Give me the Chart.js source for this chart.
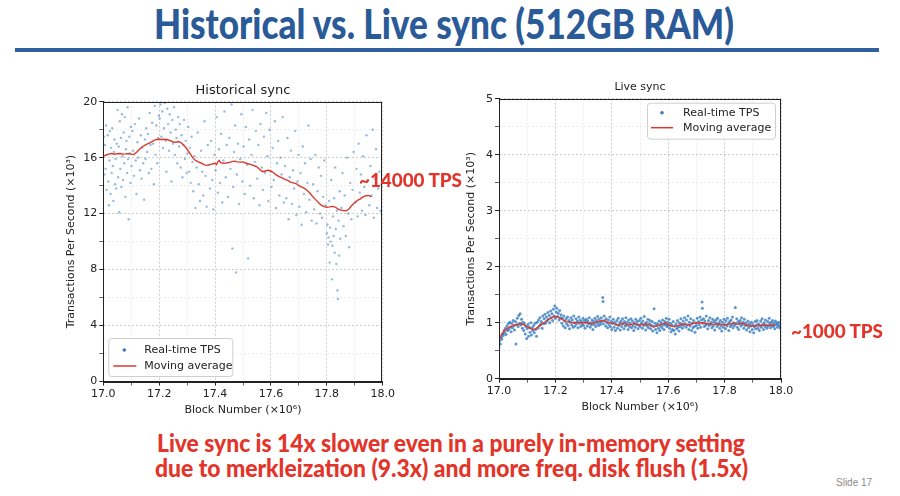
<!DOCTYPE html>
<html>
<head>
<meta charset="utf-8">
<script src="https://cdn.jsdelivr.net/npm/chart.js@4.4.1/dist/chart.umd.min.js"></script>
<style>
  html, body { margin: 0; padding: 0; background: #fff; }
  body { width: 900px; height: 496px; position: relative; overflow: hidden; }
  .txt { position: absolute; white-space: nowrap; line-height: 1; transform-origin: 0 0;
         font-family: Lato, "Open Sans", sans-serif; font-weight: 900; }
  #title { color: #2b5a98; font-size: 41px; left: 154px; top: 3px; }
  #rule { position: absolute; left: 15px; top: 48px; width: 864px; height: 4px; background: #2e5f9e; }
  .red { color: #e3342a; }
  #ann1 { font-size: 19px; left: 359px; top: 170px; }
  #ann2 { font-size: 19px; left: 791px; top: 321px; }
  #foot1 { font-size: 24px; left: 157px; top: 431px; }
  #foot2 { font-size: 24px; left: 155px; top: 456px; }
  #slide { font-family: "Liberation Sans", Arial, sans-serif; font-weight: normal; font-size: 10px; color: #8a8a8a; left: 836px; top: 478px; }
  canvas { position: absolute; }
  #histWrap { position: absolute; left: 40px; top: 72px; width: 360px; height: 350px; }
  #liveWrap { position: absolute; left: 440px; top: 68px; width: 360px; height: 352px; }
</style>
</head>
<body>
<div id="title" class="txt" data-w="580">Historical vs. Live sync (512GB RAM)</div>
<div id="rule"></div>
<div id="histWrap"><canvas id="histChart"></canvas></div>
<div id="liveWrap"><canvas id="liveChart"></canvas></div>
<div id="ann1" class="txt red" data-w="103">~14000 TPS</div>
<div id="ann2" class="txt red" data-w="92">~1000 TPS</div>
<div id="foot1" class="txt red" data-w="588">Live sync is 14x slower even in a purely in-memory setting</div>
<div id="foot2" class="txt red" data-w="593">due to merkleization (9.3x) and more freq. disk flush (1.5x)</div>
<div id="slide" class="txt">Slide 17</div>
<script>
// block number (x10^6), TPS (x10^3)
const histPoints = [
  [17.002,17.5],[17.004,14.8],[17.006,16.9],[17.008,15.2],[17.010,18.3],[17.012,13.7],[17.014,16.2],[17.016,17.6],
  [17.018,14.3],[17.020,12.6],[17.022,15.8],[17.024,17.9],[17.026,13.4],[17.028,16.7],[17.030,14.9],[17.032,18.1],
  [17.034,15.4],[17.036,12.9],[17.038,16.4],[17.040,17.3],[17.042,14.1],[17.044,15.9],[17.046,13.8],[17.048,17.0],
  [17.051,19.4],[17.053,14.6],[17.055,16.8],[17.057,12.1],[17.059,18.6],[17.061,15.2],[17.063,17.4],[17.065,13.9],
  [17.067,19.1],[17.069,16.1],[17.071,14.4],[17.073,17.8],[17.075,15.6],[17.077,18.9],[17.079,13.2],[17.081,16.6],
  [17.083,17.2],[17.085,14.9],[17.087,19.6],[17.089,15.9],[17.091,11.6],[17.093,17.5],[17.095,16.3],[17.097,14.2],
  [17.099,18.2],[17.101,15.4],[17.104,17.9],[17.107,16.5],[17.110,14.7],[17.113,18.4],[17.116,15.8],[17.119,13.4],
  [17.122,17.1],[17.125,16.0],[17.128,18.8],[17.131,15.1],[17.134,17.6],[17.137,14.5],[17.140,16.7],[17.143,15.6],
  [17.146,13.0],[17.149,17.3],[17.151,15.9],[17.154,18.1],[17.157,16.4],[17.160,17.7],[17.163,14.9],[17.166,19.2],
  [17.169,16.9],[17.172,15.2],[17.175,18.5],[17.178,17.0],[17.181,14.1],[17.184,19.7],[17.187,16.2],[17.190,18.3],
  [17.193,15.6],[17.196,17.4],[17.199,19.0],[17.202,18.8],[17.205,19.8],[17.208,17.5],[17.211,19.3],[17.214,16.7],
  [17.217,18.1],[17.220,19.9],[17.223,17.2],[17.226,15.0],[17.229,19.5],[17.232,18.4],[17.235,16.5],[17.238,19.1],
  [17.241,17.8],[17.244,14.3],[17.247,18.7],[17.250,17.0],[17.253,19.6],[17.256,16.2],[17.259,18.0],[17.262,17.4],
  [17.265,15.6],[17.268,18.9],[17.271,16.8],[17.274,18.4],[17.277,15.3],[17.280,17.6],[17.283,14.6],[17.286,16.9],
  [17.289,18.7],[17.292,15.9],[17.295,17.2],[17.298,14.9],[17.301,16.3],[17.304,18.2],[17.307,15.0],[17.310,16.7],
  [17.313,14.2],[17.316,17.5],[17.319,15.7],[17.322,13.6],[17.326,16.1],[17.330,12.4],[17.334,15.3],[17.338,17.8],
  [17.342,14.1],[17.346,12.9],[17.350,16.5],[17.354,15.0],[17.358,13.3],[17.362,18.6],[17.366,14.7],[17.370,12.5],
  [17.374,16.9],[17.378,15.5],[17.382,13.8],[17.386,17.2],[17.390,14.4],[17.394,12.3],[17.398,16.2],[17.402,15.1],
  [17.406,18.9],[17.410,13.5],[17.414,16.6],[17.418,14.2],[17.422,17.7],[17.426,12.8],[17.430,15.8],[17.434,19.3],
  [17.438,14.6],[17.442,16.9],[17.446,13.2],[17.451,17.4],[17.455,15.2],[17.459,19.8],[17.462,9.5],[17.465,13.9],
  [17.468,16.4],[17.472,18.3],[17.475,7.8],[17.478,14.8],[17.482,17.0],[17.486,12.7],[17.490,15.9],[17.494,19.1],
  [17.498,14.3],[17.502,16.8],[17.506,13.4],[17.510,18.2],[17.514,15.5],[17.518,8.8],[17.522,17.3],[17.526,14.0],
  [17.530,16.2],[17.534,19.4],[17.538,13.1],[17.542,15.7],[17.546,17.9],[17.551,14.5],[17.555,16.9],[17.559,12.6],
  [17.563,18.4],[17.567,15.3],[17.571,13.7],[17.575,17.5],[17.579,14.9],[17.583,19.2],[17.587,16.1],[17.591,12.9],
  [17.595,18.0],[17.599,15.0],[17.602,13.9],[17.606,16.7],[17.610,14.4],[17.614,18.6],[17.618,12.4],[17.622,15.6],
  [17.626,17.2],[17.630,13.3],[17.634,16.0],[17.638,14.8],[17.642,18.9],[17.646,12.8],[17.651,15.4],[17.655,13.1],
  [17.659,17.4],[17.663,11.6],[17.667,14.6],[17.671,16.5],[17.675,12.7],[17.679,15.1],[17.683,13.8],[17.687,17.9],
  [17.691,11.9],[17.695,14.3],[17.699,16.2],[17.702,12.5],[17.706,14.9],[17.710,11.2],[17.714,16.8],[17.718,13.4],
  [17.722,15.6],[17.726,12.1],[17.730,14.2],[17.734,18.3],[17.738,13.0],[17.742,15.9],[17.746,11.5],[17.751,14.1],
  [17.755,12.3],[17.759,16.2],[17.763,11.3],[17.767,13.6],[17.771,15.3],[17.775,12.0],[17.779,14.7],[17.783,11.7],
  [17.787,13.2],[17.791,15.8],[17.795,12.6],[17.800,10.6],[17.802,11.2],[17.804,9.8],[17.806,10.3],[17.808,12.9],
  [17.810,8.5],[17.812,11.0],[17.814,10.0],[17.816,14.4],[17.818,7.3],[17.820,9.7],[17.822,11.8],[17.824,10.4],
  [17.826,13.1],[17.828,9.2],[17.830,15.3],[17.832,10.9],[17.834,8.4],[17.836,12.2],[17.838,6.5],[17.840,5.9],
  [17.842,11.5],[17.844,9.0],[17.846,13.6],[17.848,10.2],[17.852,12.4],[17.856,14.9],[17.860,11.1],[17.864,13.3],
  [17.868,10.4],[17.872,16.0],[17.876,12.0],[17.880,9.6],[17.884,14.2],[17.888,11.6],[17.892,13.7],[17.896,16.4],
  [17.902,12.8],[17.906,15.2],[17.910,11.8],[17.914,17.0],[17.918,13.5],[17.922,14.8],[17.926,12.2],[17.930,16.1],
  [17.934,13.9],[17.938,11.9],[17.942,17.6],[17.946,14.4],[17.952,12.6],[17.956,15.4],[17.960,13.3],[17.964,18.0],
  [17.968,11.7],[17.972,14.5],[17.976,16.6],[17.980,12.4],[17.984,13.8],[17.988,15.0],[17.992,12.2],[17.996,14.1]
];
const histAvgBlocks = [17.00,17.01,17.02,17.03,17.04,17.05,17.06,17.07,17.08,17.09,17.10,17.11,17.12,17.13,17.14,17.15,
  17.16,17.17,17.18,17.19,17.20,17.21,17.22,17.23,17.24,17.25,17.26,17.27,17.28,17.29,17.30,17.31,17.32,17.33,17.34,17.35,
  17.36,17.37,17.38,17.39,17.40,17.405,17.41,17.415,17.42,17.43,17.44,17.45,17.46,17.47,17.48,17.49,17.50,17.51,17.52,17.53,
  17.54,17.55,17.56,17.57,17.58,17.59,17.60,17.61,17.62,17.63,17.64,17.65,17.66,17.67,17.68,17.69,17.70,17.71,17.72,17.73,
  17.74,17.75,17.76,17.77,17.78,17.79,17.80,17.81,17.82,17.83,17.84,17.85,17.86,17.87,17.88,17.89,17.90,17.91,17.92,17.93,
  17.94,17.95,17.96];
const histAvg = [16.10,16.20,16.25,16.30,16.25,16.28,16.30,16.25,16.27,16.30,16.25,16.22,16.40,16.60,16.80,16.90,
  17.00,17.10,17.22,17.30,17.32,17.30,17.32,17.28,17.22,17.12,17.10,17.15,17.05,16.85,16.60,16.30,16.00,15.80,15.70,15.62,
  15.50,15.45,15.48,15.55,15.60,15.50,15.70,15.80,15.65,15.60,15.62,15.65,15.72,15.75,15.70,15.68,15.70,15.62,15.55,15.50,
  15.42,15.35,15.15,15.00,15.05,15.10,15.05,14.90,14.75,14.65,14.55,14.45,14.38,14.25,14.20,14.15,14.00,13.90,13.80,13.65,
  13.45,13.20,13.00,12.80,12.60,12.50,12.46,12.48,12.52,12.47,12.32,12.25,12.22,12.20,12.35,12.60,12.80,12.95,13.05,13.20,
  13.28,13.30,13.20];

const livePoints = [
  [17.000,0.55],[17.003,0.68],[17.005,0.62],[17.008,0.74],[17.010,0.71],[17.013,0.80],[17.015,0.77],[17.018,0.86],
  [17.020,0.82],[17.023,0.90],[17.025,0.79],[17.028,0.94],[17.030,0.86],[17.033,0.98],[17.035,0.88],[17.038,1.01],
  [17.040,0.92],[17.043,0.84],[17.045,0.99],[17.048,0.91],[17.050,1.04],[17.053,0.95],[17.055,0.87],[17.058,1.02],
  [17.060,0.62],[17.063,0.97],[17.065,1.08],[17.068,0.93],[17.070,1.13],[17.073,0.99],[17.075,1.16],[17.078,0.96],
  [17.080,1.06],[17.083,0.90],[17.085,1.01],[17.088,0.86],[17.090,0.98],[17.093,0.80],[17.095,0.93],[17.098,0.72],
  [17.100,0.89],[17.103,0.97],[17.105,0.76],[17.108,0.92],[17.110,0.83],[17.113,1.00],[17.115,0.78],[17.118,0.91],
  [17.120,0.86],[17.123,0.95],[17.125,0.82],[17.128,0.99],[17.130,0.88],[17.133,0.76],[17.135,1.01],[17.138,0.90],
  [17.140,1.05],[17.143,0.94],[17.145,1.09],[17.148,0.97],[17.150,1.02],[17.153,0.90],[17.155,1.12],[17.158,0.98],
  [17.160,1.07],[17.163,1.15],[17.165,0.99],[17.168,1.10],[17.170,1.03],[17.173,1.18],[17.175,1.06],[17.178,1.13],
  [17.180,1.00],[17.183,1.21],[17.185,1.09],[17.188,1.16],[17.190,1.04],[17.193,1.24],[17.195,1.12],[17.198,1.30],
  [17.200,1.08],[17.203,1.19],[17.205,1.26],[17.208,1.11],[17.210,1.17],[17.213,1.05],[17.215,1.22],[17.218,1.09],
  [17.220,1.14],[17.223,0.99],[17.225,1.08],[17.228,0.94],[17.230,1.12],[17.233,1.03],[17.235,0.91],[17.238,1.07],
  [17.240,0.98],[17.243,1.10],[17.245,0.95],[17.248,1.04],[17.250,0.89],[17.253,1.01],[17.255,1.09],[17.258,0.96],
  [17.260,1.05],[17.263,0.92],[17.265,1.12],[17.268,1.00],[17.270,0.94],[17.273,1.07],[17.275,0.98],[17.278,1.03],
  [17.280,0.91],[17.283,1.10],[17.285,0.99],[17.288,1.05],[17.290,0.93],[17.293,1.02],[17.295,0.97],[17.298,1.08],
  [17.300,0.95],[17.303,1.04],[17.305,0.90],[17.308,1.01],[17.310,1.06],[17.313,0.94],[17.315,1.03],[17.318,0.98],
  [17.320,1.09],[17.323,0.92],[17.325,1.00],[17.328,0.96],[17.330,1.05],[17.333,0.88],[17.335,1.02],[17.338,0.97],
  [17.340,1.08],[17.343,0.93],[17.345,1.04],[17.348,0.99],[17.350,1.11],[17.353,0.95],[17.355,1.06],[17.358,1.01],
  [17.360,0.97],[17.363,1.09],[17.365,1.03],[17.368,1.45],[17.369,1.38],[17.370,0.98],[17.373,1.12],[17.375,1.04],
  [17.378,0.94],[17.380,1.07],[17.383,1.00],[17.385,0.91],[17.388,1.05],[17.390,0.97],[17.393,1.10],[17.395,0.93],
  [17.398,1.02],[17.400,0.88],[17.403,0.99],[17.405,1.06],[17.408,0.92],[17.410,1.01],[17.413,0.86],[17.415,0.97],
  [17.418,1.04],[17.420,0.90],[17.423,1.08],[17.425,0.95],[17.428,1.00],[17.430,0.87],[17.433,1.03],[17.435,0.93],
  [17.438,1.07],[17.440,0.98],[17.443,0.89],[17.445,1.02],[17.448,0.94],[17.450,1.09],[17.453,0.96],[17.455,1.01],
  [17.458,0.88],[17.460,1.05],[17.463,0.93],[17.465,0.99],[17.468,1.07],[17.470,0.91],[17.473,1.03],[17.475,0.95],
  [17.478,0.86],[17.480,1.00],[17.483,0.92],[17.485,1.06],[17.488,0.97],[17.490,1.02],[17.493,0.89],[17.495,0.96],
  [17.498,1.04],[17.500,0.93],[17.503,1.08],[17.505,0.99],[17.508,0.90],[17.510,1.03],[17.513,0.95],[17.515,1.11],
  [17.518,0.97],[17.520,0.87],[17.523,1.01],[17.525,0.94],[17.528,1.06],[17.530,0.91],[17.533,0.98],[17.535,1.04],
  [17.538,0.89],[17.540,0.96],[17.543,1.02],[17.545,0.85],[17.548,0.93],[17.550,1.25],[17.553,0.99],[17.555,0.88],
  [17.558,0.95],[17.560,0.82],[17.563,0.98],[17.565,0.90],[17.568,1.03],[17.570,0.86],[17.573,0.94],[17.575,1.00],
  [17.578,0.91],[17.580,1.05],[17.583,0.96],[17.585,0.88],[17.588,1.02],[17.590,0.97],[17.593,1.08],[17.595,0.93],
  [17.598,1.01],[17.600,0.95],[17.603,1.06],[17.605,0.90],[17.608,0.99],[17.610,0.84],[17.613,0.96],[17.615,0.88],
  [17.618,1.02],[17.620,0.86],[17.623,0.94],[17.625,0.80],[17.628,0.98],[17.630,0.89],[17.633,1.04],[17.635,0.92],
  [17.638,0.85],[17.640,1.00],[17.643,0.93],[17.645,1.07],[17.648,0.97],[17.650,0.90],[17.653,1.03],[17.655,0.95],
  [17.658,1.09],[17.660,0.98],[17.663,0.92],[17.665,1.05],[17.668,0.96],[17.670,1.12],[17.673,0.88],[17.675,1.01],
  [17.678,0.94],[17.680,1.07],[17.683,0.86],[17.685,0.99],[17.688,0.91],[17.690,1.04],[17.693,0.93],[17.695,0.83],
  [17.698,1.00],[17.700,0.95],[17.703,1.08],[17.705,0.90],[17.708,1.02],[17.710,0.97],[17.713,1.10],[17.715,0.92],
  [17.718,1.05],[17.720,1.37],[17.721,1.26],[17.723,0.99],[17.725,1.07],[17.728,0.93],[17.730,1.03],[17.733,0.96],
  [17.735,1.12],[17.738,0.98],[17.740,0.89],[17.743,1.04],[17.745,0.95],[17.748,1.09],[17.750,0.97],[17.753,1.01],
  [17.755,0.91],[17.758,1.06],[17.760,0.94],[17.763,1.02],[17.765,0.87],[17.768,0.99],[17.770,1.05],[17.773,0.93],
  [17.775,1.08],[17.778,0.96],[17.780,1.00],[17.783,0.90],[17.785,1.04],[17.788,0.95],[17.790,0.85],[17.793,1.01],
  [17.795,0.92],[17.798,1.06],[17.800,0.97],[17.803,0.89],[17.805,1.03],[17.808,0.94],[17.810,1.08],[17.813,0.98],
  [17.815,0.86],[17.818,1.02],[17.820,0.93],[17.823,1.05],[17.825,0.96],[17.828,1.10],[17.830,0.91],[17.833,1.00],
  [17.835,0.95],[17.838,1.27],[17.840,0.98],[17.843,1.07],[17.845,0.92],[17.848,1.02],[17.850,0.88],[17.853,0.99],
  [17.855,1.04],[17.858,0.94],[17.860,1.09],[17.863,0.97],[17.865,1.01],[17.868,0.90],[17.870,1.06],[17.873,0.95],
  [17.875,1.00],[17.878,0.87],[17.880,0.96],[17.883,1.03],[17.885,0.91],[17.888,0.98],[17.890,0.84],[17.893,0.94],
  [17.895,1.01],[17.898,0.88],[17.900,0.97],[17.903,0.82],[17.905,0.93],[17.908,1.02],[17.910,0.89],[17.913,0.96],
  [17.915,1.04],[17.918,0.90],[17.920,0.98],[17.923,0.86],[17.925,0.95],[17.928,1.03],[17.930,0.92],[17.933,1.07],
  [17.935,0.97],[17.938,0.88],[17.940,1.00],[17.943,0.93],[17.945,1.05],[17.948,0.96],[17.950,0.90],[17.953,1.02],
  [17.955,0.94],[17.958,1.08],[17.960,0.98],[17.963,0.91],[17.965,1.01],[17.968,0.95],[17.970,1.04],[17.973,0.93],
  [17.975,0.99],[17.978,0.89],[17.980,1.03],[17.983,0.96],[17.985,1.00],[17.988,0.92],[17.990,0.97],[17.993,1.01],
  [17.995,0.94],[17.998,0.90]
];
const liveAvgBlocks = [17.00,17.01,17.02,17.03,17.04,17.05,17.06,17.07,17.08,17.09,17.10,17.11,17.12,17.13,17.14,17.15,
  17.16,17.17,17.18,17.19,17.20,17.21,17.22,17.23,17.24,17.25,17.26,17.27,17.28,17.29,17.30,17.31,17.32,17.33,17.34,17.35,
  17.36,17.37,17.38,17.39,17.40,17.41,17.42,17.43,17.44,17.45,17.46,17.47,17.48,17.49,17.50,17.51,17.52,17.53,17.54,17.55,
  17.56,17.57,17.58,17.59,17.60,17.61,17.62,17.63,17.64,17.65,17.66,17.67,17.68,17.69,17.70,17.71,17.72,17.73,17.74,17.75,
  17.76,17.77,17.78,17.79,17.80,17.81,17.82,17.83,17.84,17.85,17.86,17.87,17.88,17.89,17.90,17.91,17.92,17.93,17.94,17.95,
  17.96,17.97,17.98];
const liveAvg = [0.70,0.80,0.86,0.90,0.93,0.95,0.96,0.97,0.98,0.96,0.93,0.90,0.88,0.89,0.93,0.97,
  1.00,1.04,1.07,1.10,1.11,1.10,1.07,1.04,1.02,1.01,1.00,1.00,1.01,1.00,1.00,1.00,0.99,0.98,1.00,1.02,
  1.03,1.04,1.02,1.00,0.99,0.98,0.96,0.97,0.99,0.98,0.96,0.97,0.98,0.97,0.96,0.97,0.98,0.96,0.94,0.93,
  0.94,0.96,0.98,0.99,0.97,0.94,0.93,0.94,0.96,0.98,0.97,0.96,0.97,0.99,0.99,1.00,1.00,0.99,0.98,0.98,
  0.97,0.97,0.98,0.97,0.96,0.97,0.98,0.99,0.98,0.97,0.99,0.98,0.95,0.94,0.94,0.94,0.95,0.95,0.96,0.95,
  0.95,0.96,0.96];

const xTicksMajor = [17.0, 17.2, 17.4, 17.6, 17.8, 18.0];
const histYTicks = [0, 4, 8, 12, 16, 20];
const liveYTicks = [0, 1, 2, 3, 4, 5];
const seriesLabels = ['Real-time TPS', 'Moving average'];

// fit slide text to its measured width
document.querySelectorAll('.txt[data-w]').forEach(el => {
  const w = el.getBoundingClientRect().width;
  el.style.transform = 'scaleX(' + (parseFloat(el.dataset.w) / w) + ')';
});

const mplFont = 'DejaVu Sans';
const isIn = (list, v) => list.some(t => Math.abs(t - v) < 1e-6);

// black frame round the plot, like matplotlib spines
const frame = {
  id: 'frame',
  afterDraw(chart) {
    const a = chart.chartArea, ctx = chart.ctx;
    ctx.save();
    ctx.strokeStyle = '#222';
    ctx.lineWidth = 1;
    ctx.strokeRect(Math.round(a.left) + 0.5, Math.round(a.top) + 0.5,
      Math.round(a.right - a.left) - 1, Math.round(a.bottom - a.top));
    ctx.restore();
  }
};

// legend drawn inside the plot area
const innerLegend = {
  id: 'innerLegend',
  afterDraw(chart, args, o) {
    const a = chart.chartArea, ctx = chart.ctx;
    const bx = o.left != null ? a.left + o.left : a.right - o.right - o.w;
    const by = o.top != null ? a.top + o.top : a.bottom - o.bottom - o.h;
    ctx.save();
    ctx.fillStyle = 'rgba(255,255,255,0.85)';
    ctx.strokeStyle = '#cfcfcf';
    ctx.lineWidth = 1;
    ctx.beginPath();
    ctx.roundRect(bx + 0.5, by + 0.5, o.w, o.h, 3);
    ctx.fill();
    ctx.stroke();
    const scat = chart.data.datasets.find(d => d.type === 'scatter');
    const line = chart.data.datasets.find(d => d.type === 'line');
    ctx.fillStyle = '#3b78b5';
    ctx.beginPath();
    ctx.arc(bx + o.dotX, by + o.row1, 1.8, 0, Math.PI * 2);
    ctx.fill();
    ctx.strokeStyle = line.borderColor;
    ctx.lineWidth = 1.5;
    ctx.beginPath();
    ctx.moveTo(bx + o.lineX0, by + o.row2);
    ctx.lineTo(bx + o.lineX1, by + o.row2);
    ctx.stroke();
    ctx.fillStyle = '#222';
    ctx.font = '11px "' + mplFont + '"';
    ctx.textBaseline = 'middle';
    ctx.fillText(scat.label, bx + o.textX, by + o.row1);
    ctx.fillText(line.label, bx + o.textX, by + o.row2);
    ctx.restore();
  }
};

function makeChart(id, cfg) {
  const majorX = v => isIn(xTicksMajor, v);
  const majorY = v => isIn(cfg.yMajor, v);
  return new Chart(document.getElementById(id), {
    type: 'scatter',
    data: {
      datasets: [
        {
          type: 'line', label: seriesLabels[1], order: 0,
          data: cfg.avgX.map((x, i) => ({ x, y: cfg.avgY[i] })),
          borderColor: '#d93a2f', borderWidth: 1.4, pointRadius: 0, tension: 0, fill: false
        },
        {
          type: 'scatter', label: seriesLabels[0], order: 1,
          data: cfg.points.map(p => ({ x: p[0], y: p[1] })),
          backgroundColor: cfg.dotColor, borderWidth: 0, pointRadius: cfg.dotR
        }
      ]
    },
    options: {
      responsive: true, maintainAspectRatio: false, animation: false, events: [],
      layout: { padding: { left: 0, right: cfg.padRight, top: 0, bottom: 0 } },
      plugins: {
        legend: { display: false },
        tooltip: { enabled: false },
        title: {
          display: true, text: cfg.title, fullSize: false, color: '#222',
          font: { family: mplFont, size: cfg.titleSize, weight: 'normal' },
          padding: cfg.titlePad
        },
        innerLegend: cfg.legend
      },
      scales: {
        x: {
          type: 'linear', min: 17, max: 18,
          afterFit: s => { s.height = cfg.xHeight; },
          ticks: {
            stepSize: 0.1, autoSkip: false, maxRotation: 0, padding: 2, color: '#222',
            font: { family: mplFont, size: 11 },
            callback: v => majorX(v) ? Number(v).toFixed(1) : ''
          },
          grid: {
            color: c => majorX(c.tick.value) ? 'rgba(0,0,0,0.2)' : 'rgba(0,0,0,0.08)',
            tickColor: c => majorX(c.tick.value) ? '#222' : '#666',
            tickLength: 4
          },
          border: { color: '#222', dash: [2, 2] },
          title: {
            display: true, text: 'Block Number (×10⁶)', color: '#222',
            font: { family: mplFont, size: 11 }, padding: { top: 0, bottom: cfg.xTitleBottom }
          }
        },
        y: {
          min: 0, max: cfg.yMax,
          afterFit: s => { s.width = cfg.yWidth; },
          ticks: {
            stepSize: cfg.yStep, autoSkip: false, padding: 2, color: '#222',
            font: { family: mplFont, size: 11 },
            callback: v => majorY(v) ? String(Math.round(v)) : ''
          },
          grid: {
            color: c => majorY(c.tick.value) ? 'rgba(0,0,0,0.2)' : 'rgba(0,0,0,0.08)',
            tickColor: c => majorY(c.tick.value) ? '#222' : '#666',
            tickLength: 4
          },
          border: { color: '#222', dash: [2, 2] },
          title: {
            display: true, text: 'Transactions Per Second (×10³)', color: '#222',
            font: { family: mplFont, size: 11 }, padding: { top: 25, bottom: 0 }
          }
        }
      }
    },
    plugins: [frame, innerLegend]
  });
}

makeChart('histChart', {
  title: 'Historical sync', titleSize: 13, titlePad: { top: 11, bottom: 3.1 },
  points: histPoints, avgX: histAvgBlocks, avgY: histAvg,
  dotColor: 'rgba(52,120,185,0.5)', dotR: 1.2,
  yMax: 20, yStep: 2, yMajor: histYTicks,
  padRight: 17.3, xHeight: 40.5, yWidth: 63.3, xTitleBottom: 5.4,
  legend: { left: 5, bottom: 5.5, w: 124, h: 38, dotX: 16, row1: 12, row2: 28, lineX0: 5, lineX1: 28, textX: 36 }
});

makeChart('liveChart', {
  title: 'Live sync', titleSize: 11, titlePad: { top: 12.1, bottom: 5.4 },
  points: livePoints, avgX: liveAvgBlocks, avgY: liveAvg,
  dotColor: 'rgba(40,115,190,0.75)', dotR: 1.5,
  yMax: 5, yStep: 0.5, yMajor: liveYTicks,
  padRight: 19, xHeight: 41.3, yWidth: 59, xTitleBottom: 6.7,
  legend: { right: 6, top: 4, w: 128, h: 36, dotX: 15, row1: 10, row2: 25, lineX0: 4, lineX1: 26, textX: 36 }
});
</script>
</body>
</html>
